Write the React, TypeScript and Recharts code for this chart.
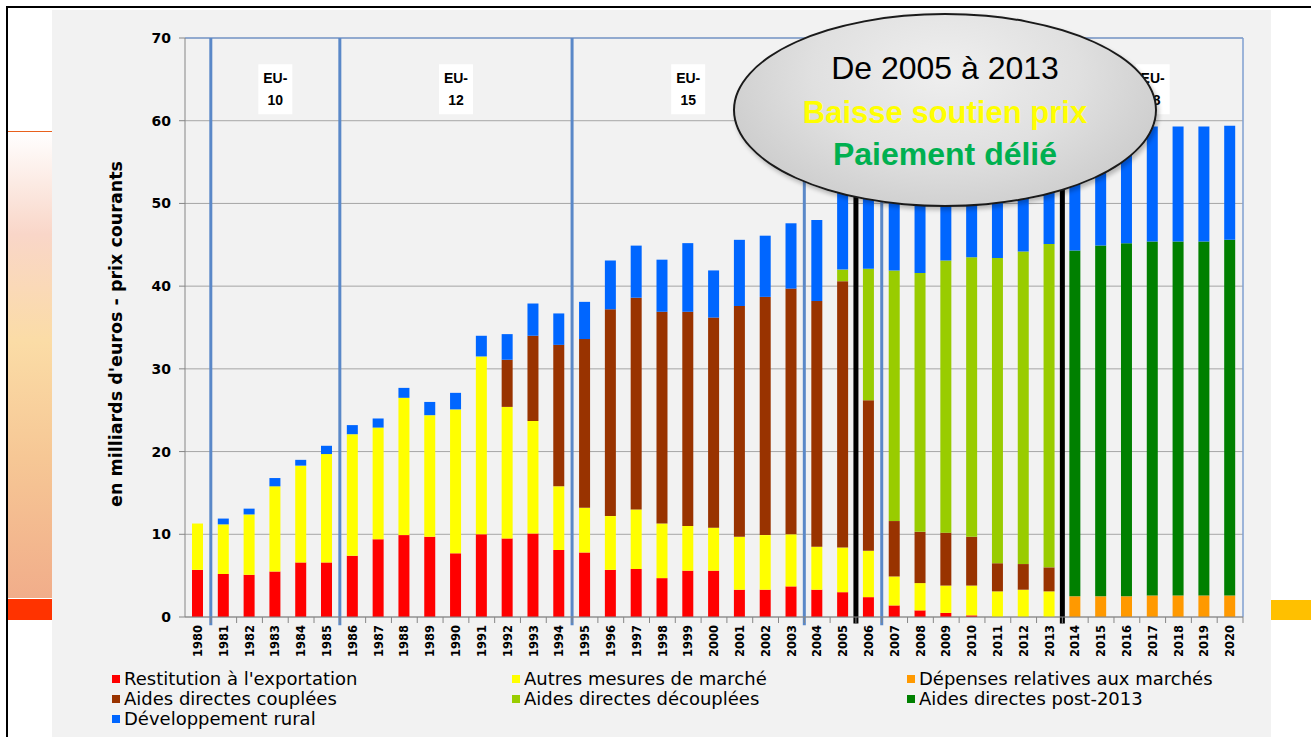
import React from 'react';
import { BarChart, Bar, XAxis, YAxis, CartesianGrid, ReferenceLine, ReferenceDot } from 'recharts';

// Dépenses PAC 1980-2020, en milliards d'euros (prix courants)
const years = [
  1980, 1981, 1982, 1983, 1984, 1985, 1986, 1987, 1988, 1989,
  1990, 1991, 1992, 1993, 1994, 1995, 1996, 1997, 1998, 1999,
  2000, 2001, 2002, 2003, 2004, 2005, 2006, 2007, 2008, 2009,
  2010, 2011, 2012, 2013, 2014, 2015, 2016, 2017, 2018, 2019, 2020,
];

const restitution = [
  5.7, 5.2, 5.1, 5.5, 6.6, 6.6, 7.4, 9.4, 9.9, 9.7,
  7.7, 10.0, 9.5, 10.1, 8.1, 7.8, 5.7, 5.8, 4.7, 5.6,
  5.6, 3.3, 3.3, 3.7, 3.3, 3.0, 2.4, 1.4, 0.8, 0.5,
  0.2, 0, 0, 0, 0, 0, 0, 0, 0, 0, 0,
];

const autresMesures = [
  5.6, 6.0, 7.3, 10.3, 11.7, 13.1, 14.7, 13.5, 16.6, 14.7,
  17.4, 21.5, 15.9, 13.6, 7.7, 5.4, 6.5, 7.2, 6.6, 5.4,
  5.2, 6.4, 6.6, 6.3, 5.2, 5.4, 5.6, 3.5, 3.3, 3.3,
  3.6, 3.1, 3.3, 3.1, 0, 0, 0, 0, 0, 0, 0,
];

const depensesMarches = [
  0, 0, 0, 0, 0, 0, 0, 0, 0, 0,
  0, 0, 0, 0, 0, 0, 0, 0, 0, 0,
  0, 0, 0, 0, 0, 0, 0, 0, 0, 0,
  0, 0, 0, 0, 2.5, 2.5, 2.5, 2.6, 2.6, 2.6, 2.6,
];

const aidesCouplees = [
  0, 0, 0, 0, 0, 0, 0, 0, 0, 0,
  0, 0, 5.7, 10.3, 17.1, 20.4, 25.0, 25.6, 25.6, 25.9,
  25.4, 27.9, 28.8, 29.7, 29.7, 32.2, 18.2, 6.7, 6.2, 6.4,
  5.9, 3.4, 3.1, 2.9, 0, 0, 0, 0, 0, 0, 0,
];

const aidesDecouplees = [
  0, 0, 0, 0, 0, 0, 0, 0, 0, 0,
  0, 0, 0, 0, 0, 0, 0, 0, 0, 0,
  0, 0, 0, 0, 0, 1.4, 15.9, 30.3, 31.3, 32.9,
  33.8, 36.9, 37.8, 39.1, 0, 0, 0, 0, 0, 0, 0,
];

const aidesPost2013 = [
  0, 0, 0, 0, 0, 0, 0, 0, 0, 0,
  0, 0, 0, 0, 0, 0, 0, 0, 0, 0,
  0, 0, 0, 0, 0, 0, 0, 0, 0, 0,
  0, 0, 0, 0, 41.8, 42.4, 42.7, 42.8, 42.8, 42.8, 43.0,
];

const developpementRural = [
  0, 0.7, 0.7, 1.0, 0.7, 1.0, 1.1, 1.1, 1.2, 1.6,
  2.0, 2.5, 3.1, 3.9, 3.8, 4.5, 5.9, 6.3, 6.3, 8.3,
  5.7, 8.0, 7.4, 7.9, 9.8, 10.5, 11.5, 10.7, 11.0, 8.4,
  11.5, 12.6, 12.8, 12.4, 11.7, 12.1, 12.8, 13.9, 13.9, 13.9, 13.8,
];

const yTicks = [0, 10, 20, 30, 40, 50, 60, 70];
const yAxisTitle = "en milliards d'euros - prix courants";

// élargissements de l'UE : première année de chaque période
const enlargementStarts = [1981, 1986, 1995, 2004, 2007];
// EU-25 / EU-27 sont cachés sous la bulle dans l'original
const enlargementLabels = [
  { year: 1983, label: '10' },
  { year: 1990, label: '12' },
  { year: 1999, label: '15' },
  { year: 2017, label: '28' },
];
// réformes 2005 -> 2013 (traits noirs)
const reformStarts = [2006, 2014];

const series = [
  { key: 'restitution', name: "Restitution à l'exportation", color: '#ff0000', values: restitution },
  { key: 'autres', name: 'Autres mesures de marché', color: '#ffff00', values: autresMesures },
  { key: 'depenses', name: 'Dépenses relatives aux marchés', color: '#ff9900', values: depensesMarches },
  { key: 'couplees', name: 'Aides directes couplées', color: '#993300', values: aidesCouplees },
  { key: 'decouplees', name: 'Aides directes découplées', color: '#99cc00', values: aidesDecouplees },
  { key: 'post2013', name: 'Aides directes post-2013', color: '#008000', values: aidesPost2013 },
  { key: 'rural', name: 'Développement rural', color: '#0066ff', values: developpementRural },
];

const data = years.map((year, i) => {
  const row: any = { year };
  series.forEach((s) => {
    row[s.key] = s.values[i];
  });
  return row;
});

const boldFont = '"DejaVu Sans", Verdana, sans-serif';

const YearTick = ({ x, y, payload }: any) => (
  <g transform={`translate(${x},${y})`}>
    <line x1={payload.offset} x2={payload.offset} y1={0} y2={6} stroke="#868686" />
    <text
      transform="rotate(-90)"
      x={-8}
      y={0}
      dy="0.36em"
      textAnchor="end"
      style={{ fontFamily: boldFont, fontWeight: 700, fontSize: 11.5, fill: '#000' }}
    >
      {payload.value}
    </text>
  </g>
);

const YTitle = () => (
  <text
    x={116}
    y={334}
    transform="rotate(-90 116 334)"
    textAnchor="middle"
    dominantBaseline="central"
    style={{ fontFamily: boldFont, fontWeight: 700, fontSize: 17.5, fill: '#000' }}
  >
    {yAxisTitle}
  </text>
);

const EuLabel = ({ cx, cy, label }: any) => (
  <g>
    <rect x={cx - 17} y={cy - 25} width={34} height={50} fill="#ffffff" />
    <text x={cx} y={cy - 11} textAnchor="middle" dominantBaseline="central"
      style={{ fontFamily: '"Liberation Sans", Arial', fontWeight: 700, fontSize: 14, fill: '#000' }}>
      EU-
    </text>
    <text x={cx} y={cy + 11} textAnchor="middle" dominantBaseline="central"
      style={{ fontFamily: '"Liberation Sans", Arial', fontWeight: 700, fontSize: 14, fill: '#000' }}>
      {label}
    </text>
  </g>
);

function Legend() {
  const cols = [112, 512, 907];
  return (
    <div style={{ position: 'absolute', left: 0, top: 0 }}>
      {series.map((s, i) => (
        <div
          key={s.key}
          style={{
            position: 'absolute',
            left: cols[i % 3],
            top: 669 + Math.floor(i / 3) * 20,
            display: 'flex',
            alignItems: 'center',
            whiteSpace: 'nowrap',
            fontFamily: '"DejaVu Sans", Verdana, sans-serif',
            fontSize: 18,
            lineHeight: '20px',
            color: '#000',
          }}
        >
          <span style={{ width: 8, height: 8, background: s.color, marginRight: 4, display: 'inline-block' }} />
          {s.name}
        </div>
      ))}
    </div>
  );
}

export default function App() {
  return (
    <div style={{ position: 'absolute', left: 0, top: 0, width: 1311, height: 737, background: '#fff', overflow: 'hidden' }}>
      {/* cadre de la diapositive */}
      <div style={{ position: 'absolute', left: 6, top: 6, right: 0, height: 2, background: '#000' }} />
      <div style={{ position: 'absolute', left: 6, top: 6, width: 2, bottom: 0, background: '#000' }} />
      <div style={{ position: 'absolute', left: 8, top: 131, width: 44, height: 1, background: '#e8601c' }} />
      <div style={{
        position: 'absolute', left: 8, top: 132, width: 44, height: 466,
        background: 'linear-gradient(180deg, #ffffff 0%, #f9d6c8 22%, #fbdca6 45%, #f6c795 70%, #f1ad8a 100%)',
      }} />
      <div style={{ position: 'absolute', left: 8, top: 599, width: 44, height: 21, background: '#ff3300' }} />
      <div style={{ position: 'absolute', left: 1271, top: 600, width: 40, height: 20, background: '#ffc000' }} />
      <div style={{ position: 'absolute', left: 52, top: 10, width: 1219, height: 727, background: '#f2f2f2' }} />

      <div style={{ position: 'absolute', left: 0, top: 0 }}>
        <BarChart width={1311} height={737} data={data} margin={{ top: 38, right: 68, bottom: 0, left: 0 }} barSize={11}>
          <CartesianGrid vertical={false} stroke="#a6a6a6" />
          <XAxis
            dataKey="year"
            interval={0}
            height={120}
            tickLine={false}
            tickSize={0}
            tickMargin={0}
            axisLine={{ stroke: '#868686' }}
            tick={<YearTick />}
          />
          <YAxis
            width={185}
            domain={[0, 70]}
            ticks={yTicks}
            interval={0}
            axisLine={{ stroke: '#868686' }}
            tickLine={{ stroke: '#868686' }}
            tickSize={6}
            tickMargin={8}
            tick={{ fontFamily: boldFont, fontWeight: 700, fontSize: 14, fill: '#000' }}
            label={{ content: YTitle }}
          />
          {series.map((s) => (
            <Bar key={s.key} dataKey={s.key} name={s.name} stackId="cap" fill={s.color} isAnimationActive={false} />
          ))}
          <ReferenceLine y={70} stroke="#7f9fd0" strokeWidth={1.5} />
          <ReferenceLine x={2020} position="end" stroke="#7f9fd0" strokeWidth={1.5} />
          {enlargementStarts.map((yr) => (
            <ReferenceLine
              key={yr}
              position="start"
              ifOverflow="visible"
              segment={[{ x: yr, y: 70 }, { x: yr, y: -1 }]}
              stroke="#5a88c8"
              strokeWidth={3}
            />
          ))}
          {reformStarts.map((yr) => (
            <ReferenceLine
              key={yr}
              position="start"
              ifOverflow="visible"
              segment={[{ x: yr, y: 55 }, { x: yr, y: -0.8 }]}
              stroke="#000"
              strokeWidth={5}
            />
          ))}
          {enlargementLabels.map((e) => (
            <ReferenceDot
              key={e.year}
              x={e.year}
              y={63.8}
              r={1}
              ifOverflow="visible"
              shape={(p: any) => <EuLabel cx={p.cx} cy={p.cy} label={e.label} />}
            />
          ))}
        </BarChart>
      </div>

      <Legend />

      {/* bulle d'annotation */}
      <div style={{
        position: 'absolute', left: 733, top: 13, width: 420, height: 190,
        borderRadius: '50%', border: '2px solid #1a1a1a',
        background: 'radial-gradient(ellipse at 50% 30%, #efefef 0%, #e0e0e0 45%, #cfcfcf 75%, #a8a8a8 100%)',
        boxShadow: '2px 3px 4px rgba(0,0,0,0.25)',
      }}>
        <div style={{ position: 'absolute', left: 0, right: 0, top: 34, textAlign: 'center', fontFamily: '"Liberation Sans", Arial, sans-serif', fontSize: 32, lineHeight: '38px', color: '#000' }}>
          De 2005 à 2013
        </div>
        <div style={{ position: 'absolute', left: 0, right: 0, top: 79, textAlign: 'center', fontFamily: '"Liberation Sans", Arial, sans-serif', fontWeight: 700, fontSize: 31, lineHeight: '38px', color: '#ffff00' }}>
          Baisse soutien prix
        </div>
        <div style={{ position: 'absolute', left: 0, right: 0, top: 120, textAlign: 'center', fontFamily: '"Liberation Sans", Arial, sans-serif', fontWeight: 700, fontSize: 32, lineHeight: '38px', color: '#00b050' }}>
          Paiement délié
        </div>
      </div>
    </div>
  );
}
